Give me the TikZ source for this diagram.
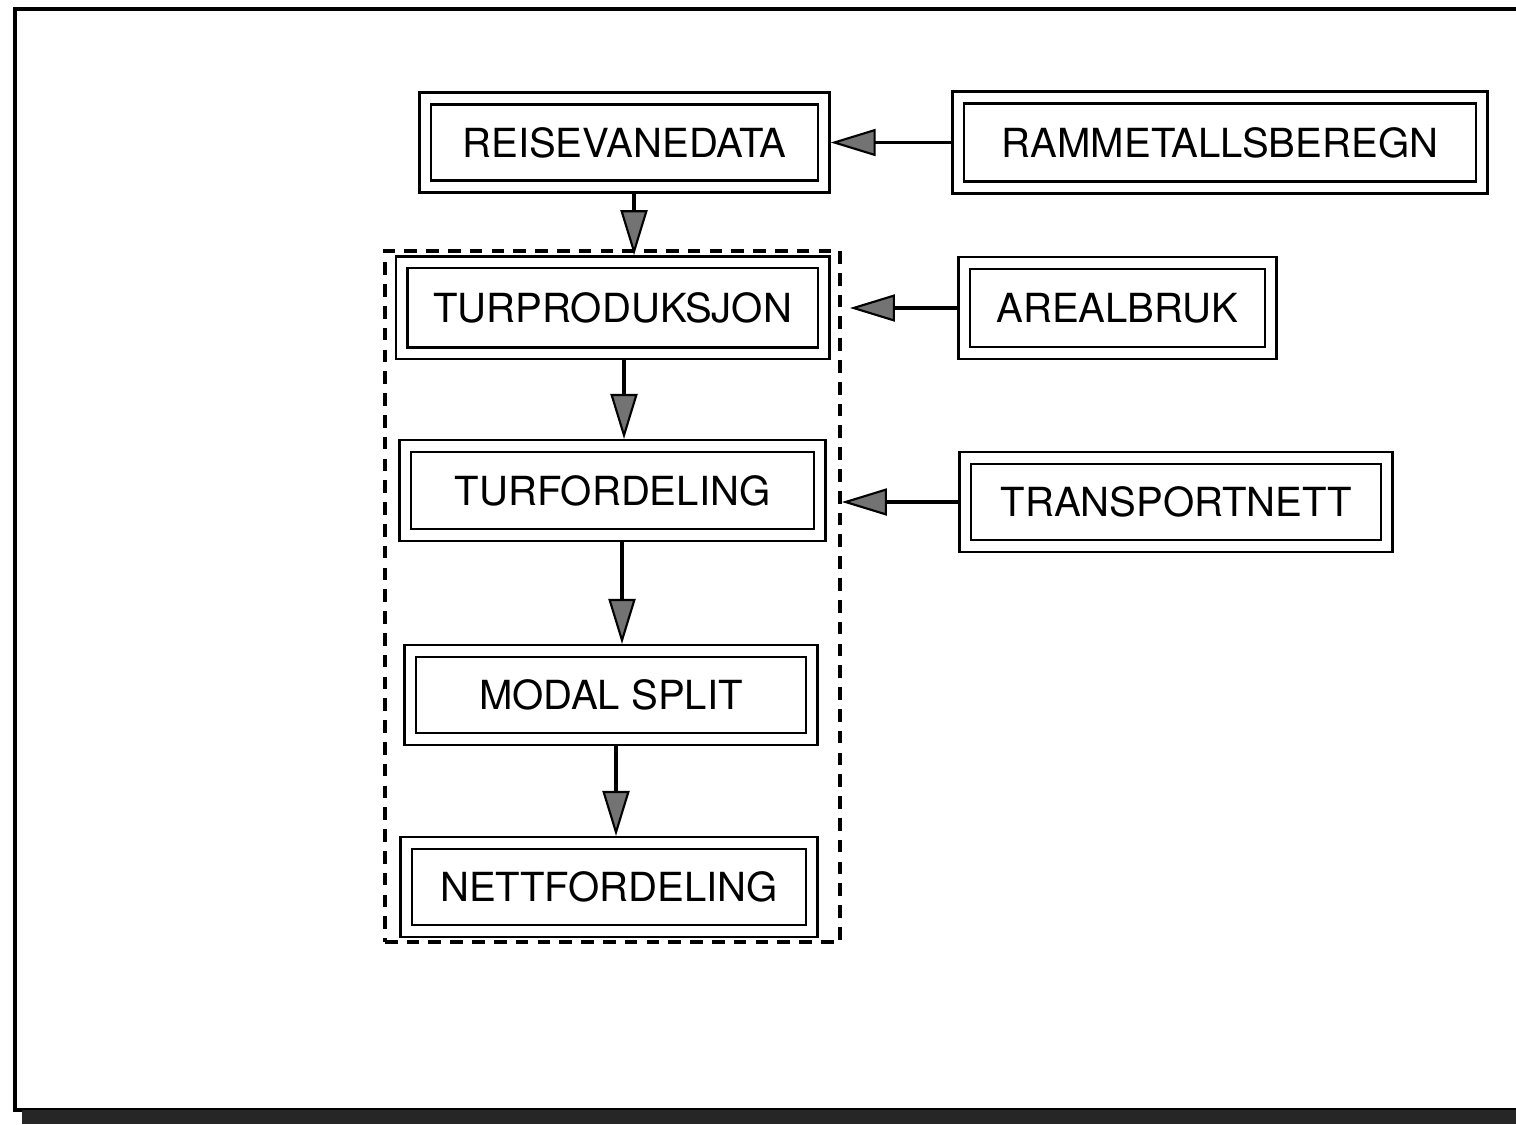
\documentclass[tikz,border=0pt]{standalone}
\usepackage{fontspec}
\setmainfont{TeX Gyre Heros}
\usetikzlibrary{arrows.meta}

\begin{document}
\begin{tikzpicture}[x=0.01cm, y=-0.01cm, font=\fontsize{11.4}{13}\selectfont,
  block/.style={draw, double, double distance=2.6pt, line width=0.7pt, inner sep=0pt, outer sep=2pt},
  flow/.style={line width=0.9pt, -{Triangle[length=0.45cm, width=0.27cm, line width=0.6pt, fill=black!55]}},
  group/.style={draw, line width=1pt, dash pattern=on 3.6pt off 2.6pt, inner sep=0pt}]

\useasboundingbox (0,0) rectangle (1516,1124);

% frame
\draw[line width=1.2pt] (1516,9) -- (15,9) -- (15,1110) -- (1516,1110);
\fill[black!85] (22,1110) rectangle (1516,1124);

% dashed model
\node[group, minimum width=4.55cm, minimum height=6.91cm] (model) at (612.5,596.5) {};

\node[block, minimum width=3.98cm, minimum height=0.88cm] (reise) at (624.5,142.5) {REISEVANEDATA};
\node[block, minimum width=5.23cm, minimum height=0.90cm] (rammet) at (1220,142.5) {RAMMETALLSBEREGN};
\node[block, minimum width=4.22cm, minimum height=0.91cm] (turprod) at (612.75,307.75) {TURPRODUKSJON};
\node[block, minimum width=3.06cm, minimum height=0.90cm] (areal) at (1117.5,308) {AREALBRUK};
\node[block, minimum width=4.14cm, minimum height=0.89cm] (turford) at (612.5,490.5) {TURFORDELING};
\node[block, minimum width=4.21cm, minimum height=0.88cm] (trans) at (1176,502) {TRANSPORTNETT};
\node[block, minimum width=4.01cm, minimum height=0.88cm] (modal) at (611,695) {MODAL SPLIT};
\node[block, minimum width=4.05cm, minimum height=0.88cm] (nett) at (609,887) {NETTFORDELING};

\coordinate (c1) at (634,0);
\coordinate (c2) at (624,0);
\coordinate (c3) at (622,0);
\coordinate (c4) at (616,0);

\draw[flow] (reise.south -| c1) -- (turprod.north -| c1);
\draw[flow] (turprod.south -| c2) -- (turford.north -| c2);
\draw[flow] (turford.south -| c3) -- (modal.north -| c3);
\draw[flow] (modal.south -| c4) -- (nett.north -| c4);

\draw[flow] (rammet.west) -- (reise.east);
\draw[flow, shorten >=0.08cm] (areal.west) -- (model.east |- areal.west);
\draw[flow] (trans.west) -- (model.east |- trans.west);

\end{tikzpicture}
\end{document}
